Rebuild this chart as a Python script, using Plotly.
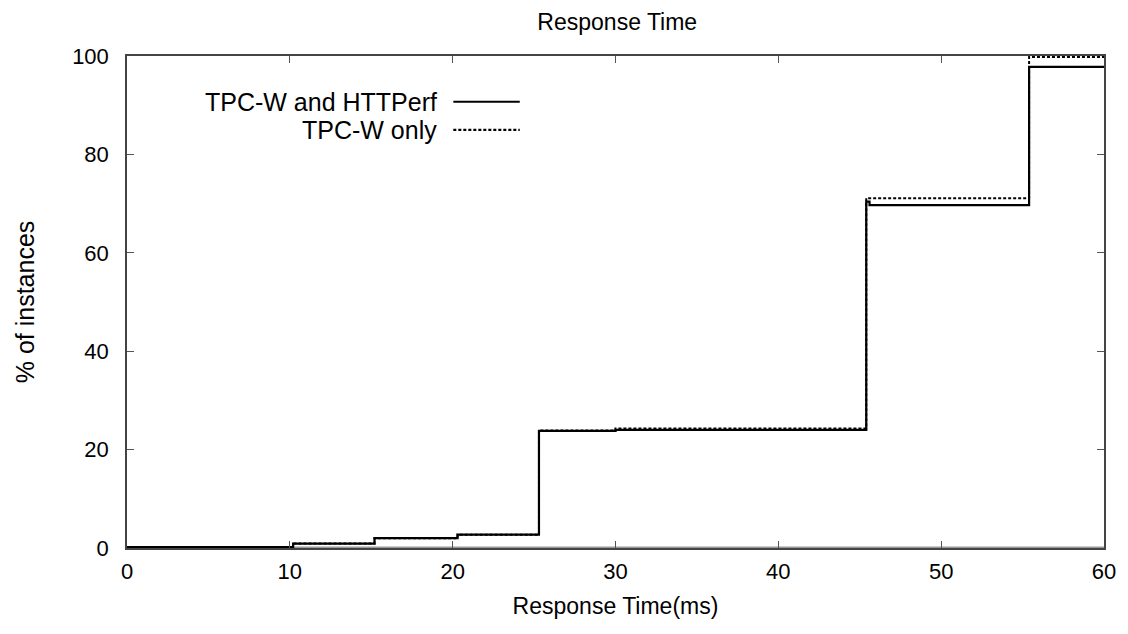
import plotly.graph_objects as go

# Response time (ms) step positions and cumulative % of instances
x_both = [0, 10.2, 15.2, 20.3, 25.3, 30.0, 45.4, 45.6, 55.4, 60]
y_both = [0.2, 0.9, 2.0, 2.7, 23.8, 24.0, 70.4, 69.7, 97.8, 97.8]

x_only = [0, 10.2, 15.2, 20.3, 25.3, 30.0, 45.4, 55.4, 60]
y_only = [0.2, 0.9, 2.0, 2.7, 23.9, 24.3, 71.1, 99.8, 99.8]

x_ticks = [0, 10, 20, 30, 40, 50, 60]
y_ticks = [0, 20, 40, 60, 80, 100]

series_names = ["TPC-W and HTTPerf", "TPC-W only"]

FONT = "Liberation Sans, Arial, sans-serif"

fig = go.Figure()
fig.add_trace(go.Scatter(x=x_both, y=y_both, mode="lines", line_shape="hv",
                         line=dict(color="black", width=2.2), name=series_names[0],
                         showlegend=False))
fig.add_trace(go.Scatter(x=x_only, y=y_only, mode="lines", line_shape="hv",
                         line=dict(color="black", width=2, dash="3px,2px"), name=series_names[1],
                         showlegend=False))

# gnuplot-style legend: text right-aligned, line sample to the right
leg_y = [0.907, 0.85]
dashes = ["solid", "3px,2px"]
for name, yy, dsh in zip(series_names, leg_y, dashes):
    fig.add_annotation(x=0.319, y=yy, xref="paper", yref="paper", text=name,
                       showarrow=False, xanchor="right", yanchor="middle",
                       font=dict(family=FONT, size=25, color="black"))
    fig.add_shape(type="line", xref="paper", yref="paper", x0=0.334, x1=0.402,
                  y0=yy, y1=yy, line=dict(color="black", width=2.2, dash=dsh))

# grey line along the bottom (y = 0)
fig.add_shape(type="line", xref="paper", yref="paper", x0=0, x1=1, y0=0, y1=0,
              line=dict(color="#999999", width=3), layer="below")

fig.update_layout(
    width=1120, height=626,
    margin=dict(l=119, r=24, t=48, b=86),
    paper_bgcolor="white", plot_bgcolor="white",
    font=dict(family=FONT, size=22, color="black"),
    title=dict(text="Response Time", x=0.544, xanchor="center", y=0.978, yanchor="middle",
               font=dict(family=FONT, size=23, color="black")),
)
fig.update_xaxes(
    range=[0, 60], tickvals=x_ticks, ticks="inside", ticklen=7, tickwidth=1,
    tickcolor="#555", showline=True, linecolor="#444", linewidth=1.5, mirror="ticks",
    showgrid=False, zeroline=False, ticklabelstandoff=3,
    tickfont=dict(family=FONT, size=22),
    title=dict(text="Response Time(ms)", font=dict(family=FONT, size=23), standoff=15),
)
fig.update_yaxes(
    range=[0, 100], tickvals=y_ticks, ticks="inside", ticklen=7, tickwidth=1,
    tickcolor="#555", showline=True, linecolor="#444", linewidth=1.5, mirror="ticks",
    showgrid=False, zeroline=False, ticklabelstandoff=12,
    tickfont=dict(family=FONT, size=22),
    title=dict(text="% of instances", font=dict(family=FONT, size=25), standoff=30),
)

fig.write_html("out.html")
